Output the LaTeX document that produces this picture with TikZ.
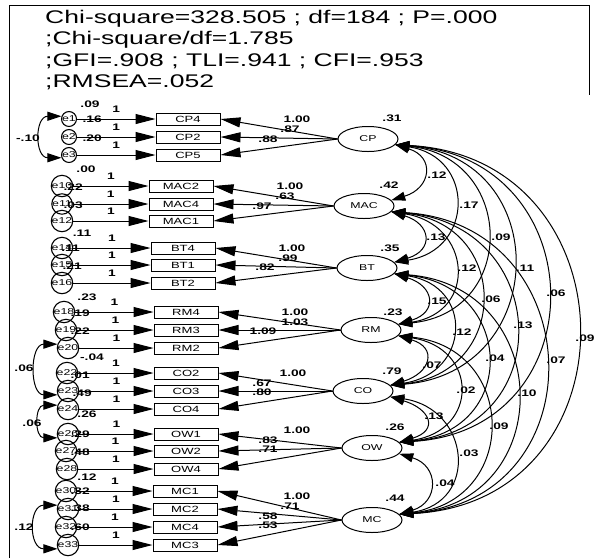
\documentclass[tikz,border=0pt]{standalone}
\usepackage{fontspec}
\usetikzlibrary{positioning, shapes, arrows.meta, calc}
\newfontfamily\amos[FakeStretch=1.45]{Liberation Sans}

\begin{document}
\begin{tikzpicture}[x=1pt, y=-1pt,
  obs/.style={draw, line width=1pt, minimum width=64pt, minimum height=12pt, inner sep=0pt, font=\amos\fontsize{9}{9}\selectfont},
  lat/.style={draw, ellipse, line width=1pt, minimum width=60pt, minimum height=25pt, inner sep=0pt, font=\amos\fontsize{8.5}{8.5}\selectfont},
  err/.style={draw, circle, line width=1.1pt, minimum size=14pt, inner sep=0pt, font=\amos\fontsize{8.5}{8.5}\selectfont},
  est/.style={font=\amos\bfseries\fontsize{9.5}{9.5}\selectfont, inner sep=0pt},
  load/.style={-{Triangle[length=20pt, width=10pt]}, line width=1pt},
  cov/.style={{Triangle[length=14pt, width=9pt]}-{Triangle[length=14pt, width=9pt]}, line width=1pt}
]
\useasboundingbox (0,0) rectangle (595,558);
\draw[line width=1pt] (9,558) -- (9,5) -- (589,5) -- (589,95);

% fit indices
\node[anchor=north west, align=left, inner sep=0pt, font=\amos\fontsize{18.3}{21.5}\selectfont] (fitidx) at (45,10)
  {Chi-square=328.505 ; df=184 ; P=.000\\;Chi-square/df=1.785\\;GFI=.908 ; TLI=.941 ; CFI=.953\\;RMSEA=.052};

% observed items
\foreach \n/\x/\y in {CP4/188/119, CP2/188/137, CP5/188/155, MAC2/181/186, MAC4/181/204, MAC1/181/221,
    BT4/183/248, BT1/183/265, BT2/183/283, RM4/186/312, RM3/186/330, RM2/186/348,
    CO2/186/373, CO3/186/391, CO4/186/409, OW1/186/434, OW2/186/451, OW4/186/469,
    MC1/185/491, MC2/185/509, MC4/185/527, MC3/185/545}
  \node[obs] (\n) at (\x,\y) {\n};

% error terms
\foreach \e/\x/\y/\v in {e1/69/119/CP4, e2/69/137/CP2, e3/69/155/CP5, e10/62/186/MAC2, e11/62/204/MAC4, e12/62/221/MAC1,
    e14/62/248/BT4, e15/62/265/BT1, e16/62/283/BT2, e18/64/312/RM4, e19/66/330/RM3, e20/68/348/RM2,
    e22/67/373/CO2, e23/68/391/CO3, e24/68/409/CO4, e26/68/434/OW1, e27/66/451/OW2, e28/67/469/OW4,
    e30/66/491/MC1, e31/68/509/MC2, e32/66/527/MC4, e33/68/545/MC3}{
  \node[err] (\e) at (\x,\y) {\e};
  \draw[load] (\e) -- (\v) node[est, midway, above=6pt] {1};
}

% error variances
\foreach \t/\x/\y in {.09/90/104, .00/86/169, .11/82/233, .23/87/297, -.04/92/357, .26/87/414, .12/87/477}
  \node[est] at (\x,\y) {\t};
\foreach \t/\x/\y in {.16/102/119, .20/102/138, .22/83/187, .03/83/205, .11/80/248, .21/82/266,
    .19/90/313, .22/90/331, .01/90/375, .49/92/393, .29/90/434, .48/90/452, .32/90/491, .38/90/508, .60/90/527}
  \node[est, anchor=east] at (\x,\y) {\t};

% error covariances
\draw[cov] (e1.160) .. controls +(-27,0) and +(-27,0) .. (e3.200);
\draw[cov] (e20.160) .. controls +(-28,0) and +(-28,0) .. (e23.200);
\draw[cov] (e24.160) .. controls +(-23,0) and +(-23,0) .. (e26.200);
\draw[cov] (e31.160) .. controls +(-29,0) and +(-29,0) .. (e33.200);
\foreach \t/\x/\y in {-.10/28/138, .06/24/368, .06/32/423, .12/24/527}
  \node[est] at (\x,\y) {\t};

% latent factors
\node[lat] (CP) at (368,139) {CP};
\node[lat] (MAC) at (364,206) {MAC};
\node[lat] (BT) at (367,268) {BT};
\node[lat] (RM) at (371,330) {RM};
\node[lat] (CO) at (363,391) {CO};
\node[lat] (OW) at (372,448) {OW};
\node[lat] (MC) at (372,520) {MC};
\foreach \t/\x/\y in {.31/392/118, .42/389/185, .35/390/248, .23/393/312, .79/392/371, .26/395/427, .44/395/498}
  \node[est] at (\x,\y) {\t};

% loadings
\foreach \l/\v in {CP/CP4, CP/CP2, CP/CP5, MAC/MAC2, MAC/MAC4, MAC/MAC1, BT/BT4, BT/BT1, BT/BT2,
    RM/RM4, RM/RM3, RM/RM2, CO/CO2, CO/CO3, CO/CO4, OW/OW1, OW/OW2, OW/OW4, MC/MC1, MC/MC2, MC/MC4, MC/MC3}
  \draw[load] (\l.west) -- (\v.east);
\foreach \t/\x/\y in {1.00/297/119, .87/290/129, .88/268/139, 1.00/290/186, .63/285/196, .97/262/206,
    1.00/292/248, .99/288/258, .82/265/267, 1.00/295/312, 1.03/295/322, 1.09/263/331,
    1.00/293/373, .67/262/383, .80/262/392, 1.00/297/430, .83/268/440, .71/268/449,
    1.00/297/496, .71/290/506, .58/268/516, .53/268/525}
  \node[est] at (\x,\y) {\t};

% factor covariances
\foreach \a/\b/\k/\t/\x/\y in {CP/MAC/1/.12/437/175, MAC/BT/1/.13/436/237, BT/RM/1/.15/437/301,
    RM/CO/1/.07/432/365, CO/OW/1/.13/434/416, OW/MC/1/.04/445/483,
    CP/BT/2/.17/469/205, MAC/RM/2/.12/467/268, BT/CO/2/.12/462/332, RM/OW/2/.02/466/390, CO/MC/2/.03/469/453,
    CP/RM/3/.09/501/237, MAC/CO/3/.06/491/299, BT/OW/3/.04/495/358, RM/MC/3/.09/499/426,
    CP/CO/4/.11/525/268, MAC/OW/4/.13/523/325, BT/MC/4/.10/527/393,
    CP/OW/5/.06/556/293, MAC/MC/5/.07/556/360, CP/MC/6/.09/585/338}{
  \pgfmathsetmacro\c{40*\k}
  \draw[cov] (\a.-12) .. controls +(\c,12) and +(\c,-12) .. (\b.12);
  \node[est] at (\x,\y) {\t};
}
\end{tikzpicture}
\end{document}
